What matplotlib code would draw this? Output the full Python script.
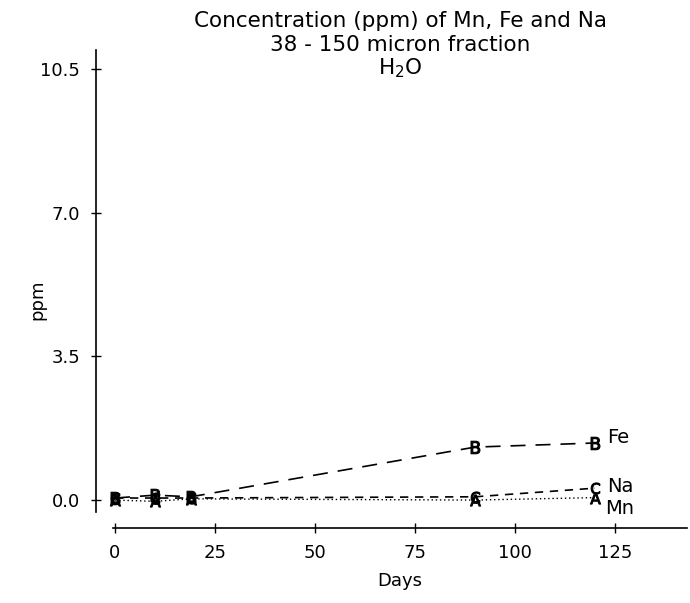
import numpy as np
import matplotlib.pyplot as plt

plt.rcParams['font.family'] = ['DejaVu Sans']

days = [0, 10, 19, 90, 120]
fe = [0.05, 0.12, 0.08, 1.29, 1.39]
na = [0.05, 0.05, 0.05, 0.08, 0.29]
mn = [0.0, -0.03, 0.03, 0.0, 0.06]

x_ticks = [0, 25, 50, 75, 100, 125]
y_ticks = [0.0, 3.5, 7.0, 10.5]


def main():
	fig = plt.figure(figsize=(6.9, 6.03), dpi=100)
	ax = fig.add_axes([96 / 690, 1 - 528 / 603, (687 - 96) / 690, (528 - 50) / 603])
	ax.set_xlim(-4.75, 143)
	ax.set_ylim(-0.68, 10.96)

	ax.plot(days, fe, color='black', lw=1.2, dashes=(9, 6), marker='$\\mathrm{B}$', ms=9, mew=0.8)
	ax.plot(days, na, color='black', lw=1.2, dashes=(5, 4), marker='$\\mathrm{C}$', ms=8, mew=0.8)
	ax.plot(days, mn, color='black', lw=1.0, dashes=(1, 2), marker='$\\mathrm{A}$', ms=8, mew=0.8)

	ax.text(123, fe[-1] + 0.13, 'Fe', fontsize=14, va='center')
	ax.text(123, na[-1] + 0.05, 'Na', fontsize=14, va='center')
	ax.text(122.5, mn[-1] - 0.27, 'Mn', fontsize=14, va='center')

	for s in ['top', 'right']:
		ax.spines[s].set_visible(False)
	ax.spines['left'].set_bounds(-0.29, 10.96)
	ax.spines['bottom'].set_bounds(-0.5, 143)
	ax.spines['left'].set_linewidth(1.2)
	ax.spines['bottom'].set_linewidth(1.2)

	ax.set_xticks(x_ticks)
	ax.set_yticks(y_ticks)
	ax.set_yticklabels(['%.1f' % v for v in y_ticks])
	ax.tick_params(direction='inout', length=7, width=1, labelsize=13, pad=8)

	ax.set_xlabel('Days', fontsize=13)
	ax.set_ylabel('ppm', fontsize=13)
	ax.xaxis.set_label_coords(0.514, -0.092)
	ax.yaxis.set_label_coords(-0.084, 0.477)

	fig.text(0.58, 1 - 21 / 603, 'Concentration (ppm) of Mn, Fe and Na', ha='center', va='center', fontsize=15.5)
	fig.text(0.58, 1 - 45 / 603, '38 - 150 micron fraction', ha='center', va='center', fontsize=15.5)
	fig.text(0.58, 1 - 68 / 603, 'H$_2$O', ha='center', va='center', fontsize=15.5)

	fig.savefig('out.png', dpi=100)


if __name__ == '__main__':
	main()
